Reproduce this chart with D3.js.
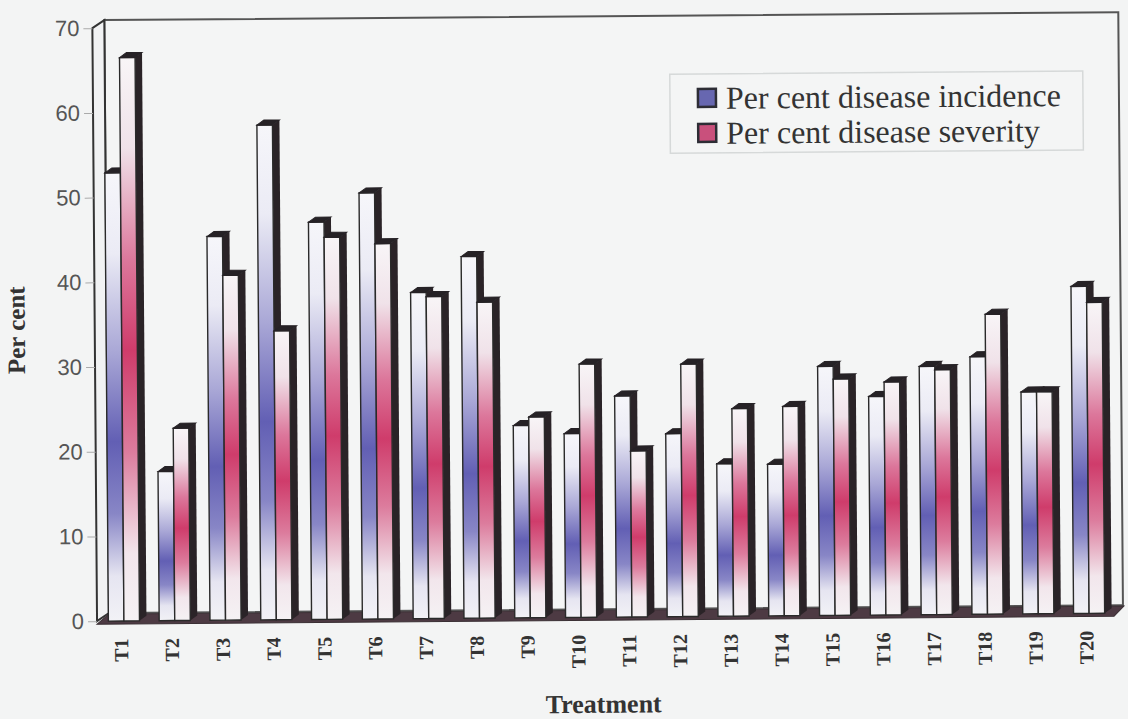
<!DOCTYPE html>
<html>
<head>
<meta charset="utf-8">
<script src="https://cdn.jsdelivr.net/npm/d3@7/dist/d3.min.js"></script>
<style>
    html, body { margin: 0; padding: 0; background: #f3f4f4; }
    svg { display: block; }
</style>
</head>
<body>
<div id="chart"></div>
<script>
var treatments = ["T1", "T2", "T3", "T4", "T5", "T6", "T7", "T8", "T9", "T10",
    "T11", "T12", "T13", "T14", "T15", "T16", "T17", "T18", "T19", "T20"];
var incidence = [52.9, 17.6, 45.3, 58.4, 46.9, 50.3, 38.5, 42.7, 22.7, 21.7,
    26.1, 21.6, 18.0, 17.9, 29.4, 25.8, 29.3, 30.4, 26.2, 38.6];
var severity = [66.5, 22.7, 40.7, 34.1, 45.1, 44.3, 38.0, 37.3, 23.7, 29.9,
    19.6, 29.8, 24.5, 24.7, 27.9, 27.5, 28.9, 35.4, 26.2, 36.7];
var seriesNames = ["Per cent disease incidence", "Per cent disease severity"];
var yTicks = [0, 10, 20, 30, 40, 50, 60, 70];

var width = 1128,
    height = 719,
    base = 617.5,
    topY = 24.5,
    axisX = 95,
    wallDx = 12,
    wallDy = 8,
    barDx = 7,
    barDy = 5;

function _buildRows() {
    var rows = [];
    for (var i = 0; i < treatments.length; i++) {
        rows.push({
            t: treatments[i],
            values: [
                { key: "inc", value: incidence[i] },
                { key: "sev", value: severity[i] }
            ]
        });
    }
    return rows;
}

function _pts(arr) {
    return arr.map(function (p) { return p[0] + "," + p[1]; }).join(" ");
}

var svg = d3.select("#chart").append("svg")
    .attr("width", width)
    .attr("height", height);

// gradients for the bar fronts
var defs = svg.append("defs");
var gradStops = {
    inc: [[0, "#f6f6fa"], [0.18, "#ebebf5"], [0.4, "#a9a7d6"], [0.6, "#625fb4"],
        [0.76, "#8886c6"], [0.9, "#e6e5f1"], [1, "#f2f2f6"]],
    sev: [[0, "#f8f5f7"], [0.16, "#f0e2e9"], [0.36, "#dc779b"], [0.52, "#cf3c6b"],
        [0.7, "#dc7c9d"], [0.88, "#f2e6ec"], [1, "#f5f2f4"]]
};
Object.keys(gradStops).forEach(function (k) {
    var g = defs.append("linearGradient")
        .attr("id", "grad-" + k)
        .attr("x1", 0).attr("y1", 0).attr("x2", 0).attr("y2", 1);
    g.selectAll("stop")
        .data(gradStops[k])
        .enter()
        .append("stop")
        .attr("offset", function (d) { return d[0]; })
        .attr("stop-color", function (d) { return d[1]; });
});

// the scan is tilted a little
var chart = svg.append("g")
    .attr("transform", "rotate(-0.45,564,360)");

var x = d3.scaleBand()
    .domain(treatments)
    .range([100, 1116])
    .paddingInner(0.25)
    .paddingOuter(0.125);

var x1 = d3.scaleBand()
    .domain(["inc", "sev"])
    .range([0, x.bandwidth() - barDx]);

var y = d3.scaleLinear()
    .domain([0, 70])
    .range([base, topY]);

//back wall frame
var backTop = y(70) - wallDy;
chart.append("rect")
    .attr("x", axisX + wallDx)
    .attr("y", backTop)
    .attr("width", 1121 - axisX - wallDx)
    .attr("height", base - wallDy - backTop)
    .attr("fill", "#f4f5f5")
    .attr("stroke", "#555")
    .attr("stroke-width", 2);

//left side wall
chart.append("polygon")
    .attr("points", _pts([[axisX, y(70)], [axisX + wallDx, backTop],
        [axisX + wallDx, base - wallDy], [axisX, base]]))
    .attr("fill", "#f1f2f3")
    .attr("stroke", "#333")
    .attr("stroke-width", 2);

//floor
chart.append("polygon")
    .attr("points", _pts([[axisX, base + 3], [1112, base + 3],
        [1122, base - 7], [axisX + wallDx, base - 7]]))
    .attr("fill", "#4d3a43")
    .attr("stroke", "#3a2f34")
    .attr("stroke-width", 1);

//y axis
var yAxis = chart.append("g")
    .attr("transform", "translate(" + axisX + ",0)")
    .call(d3.axisLeft(y).tickValues(yTicks).tickSize(9).tickPadding(4));
yAxis.select(".domain").remove();
yAxis.selectAll("line").attr("stroke", "#aaa");
yAxis.selectAll("text")
    .attr("font-family", "'Liberation Sans', Arial, sans-serif")
    .attr("font-size", "22px")
    .attr("fill", "#555");

//bars
var groups = chart.selectAll(".group")
    .data(_buildRows())
    .enter()
    .append("g")
    .attr("class", "group")
    .attr("transform", function (d) {
        return "translate(" + x(d.t) + ",0)";
    });

var bars = groups.selectAll(".bar")
    .data(function (d) { return d.values; })
    .enter()
    .append("g")
    .attr("class", "bar");

bars.append("polygon")
    .attr("points", function (d) {
        var bx = x1(d.key) + x1.bandwidth(), by = y(d.value);
        return _pts([[bx, by], [bx + barDx, by - barDy], [bx + barDx, base - barDy], [bx, base]]);
    })
    .attr("fill", "#2a2327");

bars.append("rect")
    .attr("x", function (d) { return x1(d.key); })
    .attr("y", function (d) { return y(d.value); })
    .attr("width", x1.bandwidth())
    .attr("height", function (d) { return base - y(d.value); })
    .attr("fill", function (d) { return "url(#grad-" + d.key + ")"; })
    .attr("stroke", "#2a2a2a")
    .attr("stroke-width", 1.4);

bars.append("polygon")
    .attr("points", function (d) {
        var bx = x1(d.key), by = y(d.value), w = x1.bandwidth();
        return _pts([[bx, by], [bx + barDx, by - barDy], [bx + w + barDx, by - barDy], [bx + w, by]]);
    })
    .attr("fill", "#262226")
    .attr("stroke", "#262226")
    .attr("stroke-width", 1);

//x axis labels
var xAxis = chart.append("g")
    .attr("transform", "translate(0,635)")
    .call(d3.axisBottom(x).tickSize(0).tickPadding(0));
xAxis.select(".domain").remove();
xAxis.selectAll("text")
    .attr("transform", "rotate(-90)")
    .attr("x", 0)
    .attr("y", -x.bandwidth() / 2 + 12.6)
    .attr("dy", "0.35em")
    .attr("text-anchor", "end")
    .attr("font-family", "'Liberation Serif', 'Times New Roman', serif")
    .attr("font-weight", "bold")
    .attr("font-size", "20px")
    .attr("fill", "#333");

//axis titles
chart.append("text")
    .attr("x", 601)
    .attr("y", 713)
    .attr("text-anchor", "middle")
    .attr("font-family", "'Liberation Serif', 'Times New Roman', serif")
    .attr("font-weight", "bold")
    .attr("font-size", "26px")
    .attr("fill", "#333")
    .text("Treatment");

chart.append("text")
    .attr("transform", "translate(25,326) rotate(-90)")
    .attr("text-anchor", "middle")
    .attr("font-family", "'Liberation Serif', 'Times New Roman', serif")
    .attr("font-weight", "bold")
    .attr("font-size", "25px")
    .attr("fill", "#333")
    .text("Per cent");

//legend
var legend = chart.append("g")
    .attr("transform", "translate(672,75)");
legend.append("rect")
    .attr("width", 413)
    .attr("height", 79)
    .attr("fill", "#f4f5f5")
    .attr("stroke", "#d6d9d9")
    .attr("stroke-width", 1.5);

var legendColors = ["#6767b0", "#c9507c"];
var items = legend.selectAll(".item")
    .data(seriesNames)
    .enter()
    .append("g")
    .attr("class", "item")
    .attr("transform", function (d, i) {
        return "translate(0," + (i * 35) + ")";
    });

items.append("rect")
    .attr("x", 28)
    .attr("y", 15)
    .attr("width", 18)
    .attr("height", 18)
    .attr("fill", function (d, i) { return legendColors[i]; })
    .attr("stroke", "#2d2d35")
    .attr("stroke-width", 2.5);

items.append("text")
    .attr("x", 56)
    .attr("y", 35)
    .attr("font-family", "'Liberation Serif', 'Times New Roman', serif")
    .attr("font-size", "32px")
    .attr("fill", "#333")
    .text(function (d) { return d; });
</script>
</body>
</html>
